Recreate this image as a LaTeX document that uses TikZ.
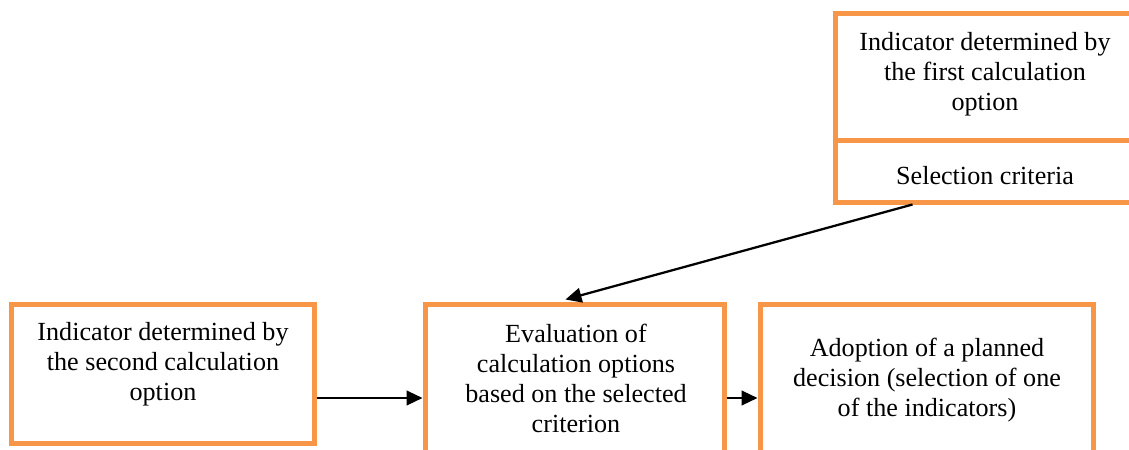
\documentclass[tikz,border=0pt]{standalone}
\usepackage{fontspec}
\setmainfont{Liberation Serif}
\usetikzlibrary{arrows.meta,fit,calc}
\definecolor{boxorange}{RGB}{247,150,70}
\tikzset{
  box/.style={draw=boxorange, line width=3.75pt, inner sep=0pt, fill=none},
  txt/.style={align=center, inner sep=0pt, font=\fontsize{19.6}{22.5}\selectfont},
  arr/.style={draw=black, line width=1.7pt, -{Triangle[length=12pt,width=11pt]}}
}
\begin{document}
\begin{tikzpicture}[x=0.75pt,y=-0.75pt]
\useasboundingbox (0,0) rectangle (1129,450);
\clip (0,0) rectangle (1129,450);
% boxes
\node[box, fit={(835,13) (1142,140)}] (ind1) {};
\node[box, fit={(835,140) (1142,202)}] (sel) {};
\node[box, fit={(11.5,304) (314,443)}] (ind2) {};
\node[box, fit={(425,304) (724,480)}] (eval) {};
\node[box, fit={(760,304) (1093,480)}] (adopt) {};
% texts
\node[txt] (t1) at (985,74) {Indicator determined by\\the first calculation\\option};
\node[txt] (t2) at (985,176) {Selection criteria};
\node[txt] (t3) at (163,364) {Indicator determined by\\the second calculation\\option};
\node[txt] (t4) at (576,378) {Evaluation of\\calculation options\\based on the selected\\criterion};
\node[txt] (t5) at (927,380) {Adoption of a planned\\decision (selection of one\\of the indicators)};
% connectors
\coordinate (s1) at ($(sel.south west)+(80,0)$);
\coordinate (e1) at ($(eval.north west)+(143,-2)$);
\draw[arr] (s1) -- (e1);
\draw[arr] (ind2.east |- 0,398) -- (eval.west |- 0,398);
\draw[arr] (eval.east |- 0,398) -- (adopt.west |- 0,398);
\end{tikzpicture}
\end{document}
